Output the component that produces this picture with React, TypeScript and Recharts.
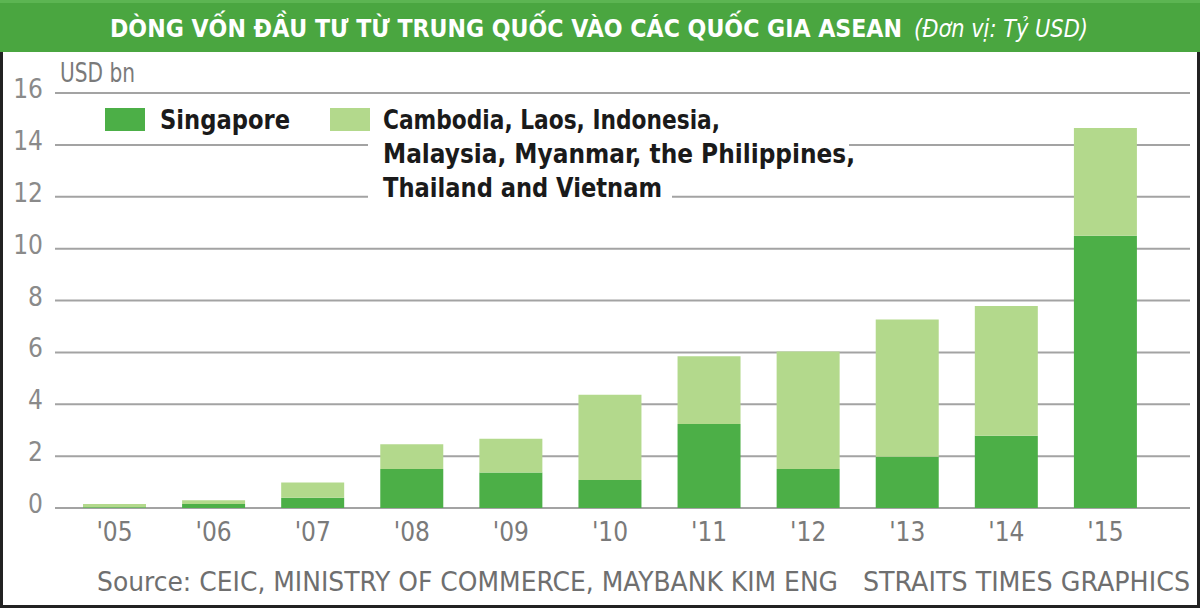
import React from "react";
import { BarChart, Bar, XAxis, YAxis, CartesianGrid } from "recharts";

const years = ["'05", "'06", "'07", "'08", "'09", "'10", "'11", "'12", "'13", "'14", "'15"];
const singapore = [0.03, 0.15, 0.4, 1.5, 1.37, 1.08, 3.24, 1.5, 1.98, 2.79, 10.5];
const others = [0.12, 0.15, 0.58, 0.96, 1.3, 3.29, 2.61, 4.53, 5.29, 5.0, 4.15];
const yTicks = [0, 2, 4, 6, 8, 10, 12, 14, 16];

const titleMain = "DÒNG VỐN ĐẦU TƯ TỪ TRUNG QUỐC VÀO CÁC QUỐC GIA ASEAN";
const titleUnit = "(Đơn vị: Tỷ USD)";
const unitLabel = "USD bn";
const legendSingapore = "Singapore";
const legendOthers = [
  "Cambodia, Laos, Indonesia,",
  "Malaysia, Myanmar, the Philippines,",
  "Thailand and Vietnam",
];
const sourceText = "Source: CEIC, MINISTRY OF COMMERCE, MAYBANK KIM ENG";
const creditText = "STRAITS TIMES GRAPHICS";

const data = years.map((y, i) => ({ year: y, singapore: singapore[i], others: others[i] }));

const DARK = "#4caf47";
const LIGHT = "#b3d98c";
const FONT = "'DejaVu Sans Condensed', 'Liberation Sans Narrow', 'Roboto', sans-serif";

const YTick = (props: any) => {
  const { x, y, payload } = props;
  return (
    <text x={x - 12} y={y + 5} textAnchor="end" fontSize={26} fill="#8a8a8a" fontFamily={FONT}>
      {payload.value}
    </text>
  );
};

const XTick = (props: any) => {
  const { x, y, payload } = props;
  return (
    <text x={x} y={y + 33} textAnchor="middle" fontSize={26} fill="#7a7a7a" fontFamily={FONT}>
      {payload.value}
    </text>
  );
};

export default function App() {
  return (
    <div style={{ position: "absolute", left: 0, top: 0, width: 1200, height: 608, background: "#fff", overflow: "hidden" }}>
      <div style={{ position: "absolute", left: 0, top: 52, width: 1200, height: 556, boxSizing: "border-box", borderLeft: "3px solid #222", borderRight: "3px solid #222", borderBottom: "3px solid #222" }} />
      <div style={{ position: "absolute", left: 0, top: 0 }}>
        <BarChart width={1200} height={608} data={data} margin={{ top: 93, right: 10, bottom: 70, left: 0 }}>
          <CartesianGrid vertical={false} stroke="#a3a3a3" strokeWidth={2} />
          <XAxis
            dataKey="year"
            axisLine={false}
            tickLine={false}
            tickSize={0}
            tickMargin={0}
            height={30}
            padding={{ left: 10, right: 35 }}
            interval={0}
            tick={<XTick />}
          />
          <YAxis
            domain={[0, 16]}
            ticks={yTicks}
            axisLine={false}
            tickLine={false}
            tickSize={0}
            tickMargin={0}
            width={55}
            interval={0}
            tick={<YTick />}
          />
          <Bar dataKey="singapore" stackId="a" fill={DARK} barSize={63} isAnimationActive={false} />
          <Bar dataKey="others" stackId="a" fill={LIGHT} barSize={63} isAnimationActive={false} />
        </BarChart>
      </div>
      <svg width={1200} height={608} style={{ position: "absolute", left: 0, top: 0, pointerEvents: "none" }}>
        <rect x={0} y={0} width={1200} height={52} fill="#4aa640" />
        <rect x={0} y={0} width={1200} height={3} fill="#5cb552" />
        <text x={110} y={37} fontSize={24.5} fontWeight="bold" fill="#fff" fontFamily={FONT} textLength={792} lengthAdjust="spacingAndGlyphs">
          {titleMain}
        </text>
        <text x={914} y={37} fontSize={24.5} fontStyle="italic" fill="#fff" fontFamily={FONT} textLength={174} lengthAdjust="spacingAndGlyphs">
          {titleUnit}
        </text>
        <text x={60} y={82} fontSize={26} fill="#7a7a7a" fontFamily={FONT} textLength={75} lengthAdjust="spacingAndGlyphs">
          {unitLabel}
        </text>
        {/* legend */}
        <rect x={368} y={136} width={481} height={30} fill="#fff" />
        <rect x={368} y={170} width={304} height={32} fill="#fff" />
        <rect x={105} y={108} width={40} height={23} fill={DARK} />
        <text x={160} y={129} fontSize={27} fontWeight="bold" fill="#1a1a1a" fontFamily={FONT} textLength={130} lengthAdjust="spacingAndGlyphs">
          {legendSingapore}
        </text>
        <rect x={330} y={108} width={40} height={23} fill={LIGHT} />
        {legendOthers.map((t, i) => (
          <text
            key={t}
            x={383}
            y={129 + i * 34}
            fontSize={27}
            fontWeight="bold"
            fill="#1a1a1a"
            fontFamily={FONT}
            textLength={[337, 472, 279][i]}
            lengthAdjust="spacingAndGlyphs"
          >
            {t}
          </text>
        ))}
        <text x={97} y={591} fontSize={26} fill="#6f6f6f" fontFamily={FONT} textLength={741} lengthAdjust="spacingAndGlyphs">
          {sourceText}
        </text>
        <text x={863} y={591} fontSize={26} fill="#6f6f6f" fontFamily={FONT} textLength={327} lengthAdjust="spacingAndGlyphs">
          {creditText}
        </text>
      </svg>
    </div>
  );
}
